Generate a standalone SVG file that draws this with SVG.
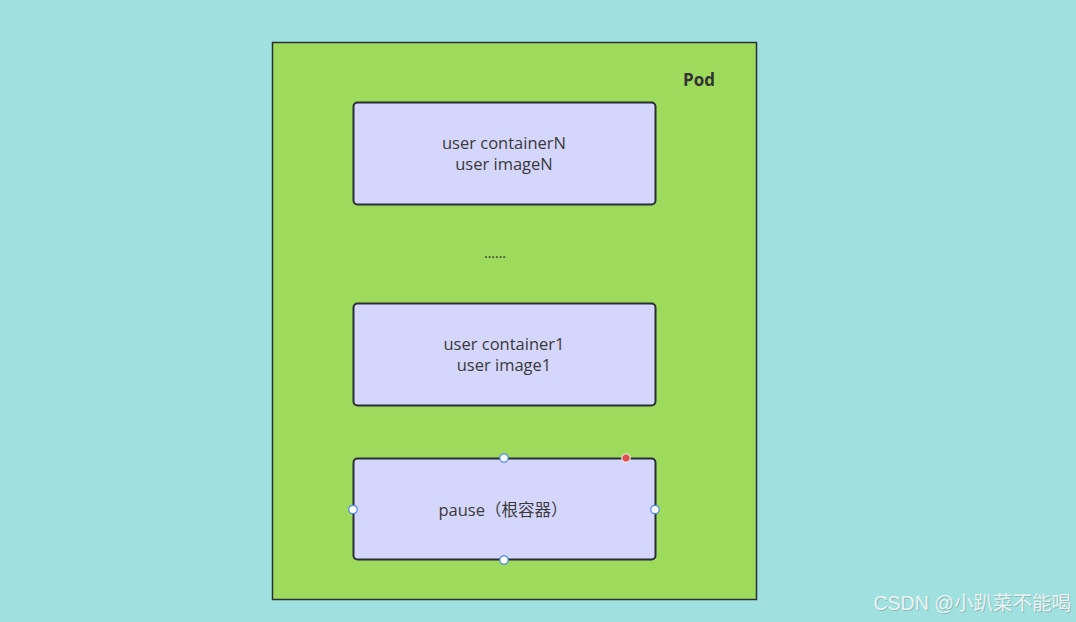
<svg xmlns="http://www.w3.org/2000/svg" width="1076" height="622" viewBox="0 0 1076 622">
<style>
.box{fill:#d5d6fb;stroke:#2b2d38;stroke-width:2}
.t{font-family:"Open Sans","Noto Sans CJK SC",sans-serif;font-size:16.5px;fill:#3a3a3a;text-anchor:middle}
.h{fill:#ffffff;stroke:#4a86f0;stroke-width:1.2}
.wm{font-family:"Liberation Sans","Noto Sans CJK SC",sans-serif;font-size:19.5px;text-anchor:end}
</style>
<rect width="1076" height="622" fill="#a0e1e0"/>
<g id="pod">
<rect x="272.5" y="42.5" width="484" height="557" fill="#9edb5c" stroke="#2b2d38" stroke-width="1.5"/>
<text x="699" y="86" style="font-family:'Open Sans','Noto Sans CJK SC',sans-serif;font-size:17px;font-weight:bold;fill:#333;text-anchor:middle">Pod</text>
</g>
<g id="containerN">
<rect class="box" x="353.5" y="102.5" width="302" height="102" rx="4"/>
<text class="t" x="504" y="148.5">user containerN</text>
<text class="t" x="504" y="170">user imageN</text>
</g>
<g id="dots">
<text x="495" y="258" style="font-family:'Open Sans',sans-serif;font-size:14px;fill:#333;text-anchor:middle">......</text>
</g>
<g id="container1">
<rect class="box" x="353.5" y="303.5" width="302" height="102" rx="4"/>
<text class="t" x="504" y="349.5">user container1</text>
<text class="t" x="504" y="371">user image1</text>
</g>
<g id="pause">
<rect class="box" x="353.5" y="458.5" width="302" height="101" rx="4"/>
<text class="t" x="503" y="516">pause（根容器）</text>
<circle class="h" cx="504" cy="458" r="4.2"/>
<circle class="h" cx="353" cy="509.5" r="4.2"/>
<circle class="h" cx="655" cy="509.5" r="4.2"/>
<circle class="h" cx="504" cy="560" r="4.2"/>
<circle cx="626" cy="458" r="4.2" fill="#e05050" stroke="#ffffff" stroke-width="1"/>
</g>
<g id="connectors"/>
<text class="wm" x="1072" y="611" fill="#7f9a9a" opacity="0.55">CSDN @小趴菜不能喝</text>
<text class="wm" x="1071" y="610" fill="#eaf4f4">CSDN @小趴菜不能喝</text>
</svg>
